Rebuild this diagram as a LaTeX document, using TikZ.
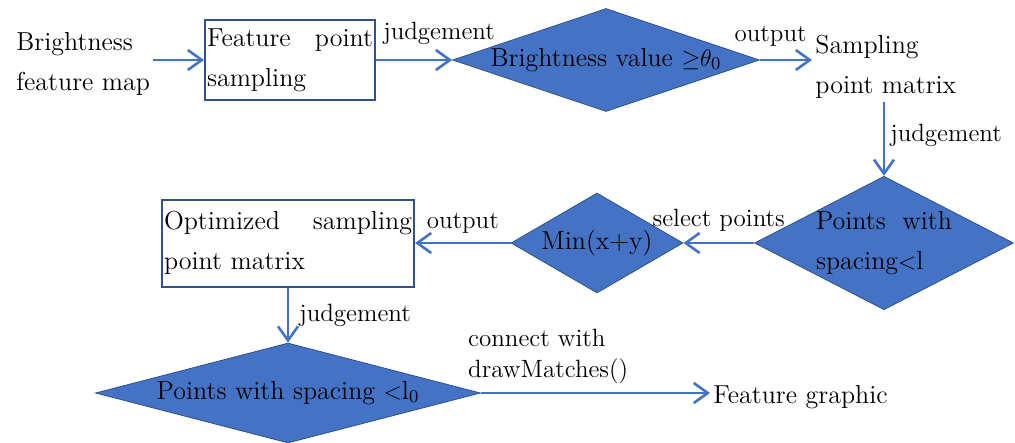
\documentclass[tikz,border=0pt]{standalone}
\usepackage{amssymb}
\usepackage{amsmath}
\usepackage{tikz}
\usetikzlibrary{arrows.meta, positioning, shapes.geometric}

\definecolor{flowBlue}{HTML}{4472C4}
\definecolor{flowEdge}{HTML}{2F528F}
\newcommand{\spread}{\hspace{0pt plus 1filll}} % pushes the words of a line to both edges

\begin{document}
\begin{tikzpicture}[auto, >={Straight Barb[length=7pt, width=10pt]}, font=\fontsize{13}{20}\selectfont]
        % Styles for boxes, decisions and links
        \tikzstyle{block} = [draw=flowEdge, line width=1pt, rectangle, inner sep=1pt, align=left]
        \tikzstyle{decision} = [draw=flowEdge, fill=flowBlue, line width=0.4pt, diamond, inner sep=0pt, align=left]
        \tikzstyle{plain} = [inner sep=1.5pt, align=left]
        \tikzstyle{link} = [draw=flowBlue, line width=1.3pt]
        \tikzstyle{tag} = [inner sep=0pt, font=\fontsize{12.5}{15.5}\selectfont]

        \useasboundingbox (0pt,0pt) rectangle (507.5pt,-221.5pt);

        % Nodes
        \node at (145pt,-30pt) [block, text width=83pt, minimum height=40pt] (pointSampling) {Feature\spread point\\sampling};
        \node [plain, on grid, below left=2pt and 138.5pt of pointSampling, anchor=west] (brightMap) {Brightness\\feature map};
        \node [decision, on grid, right=158pt of pointSampling, minimum width=153.5pt, minimum height=51.5pt, shape aspect=2.98] (brightCheck) {Brightness value ${\geq}\theta_0$};
        \node [plain, on grid, below right=3.5pt and 103pt of brightCheck, anchor=west] (sampleMatrix) {Sampling\\point matrix};
        \node [decision, on grid, below right=91.5pt and 139pt of brightCheck, text width=68pt, minimum width=126pt, minimum height=65pt, shape aspect=1.94] (spacingCheck) {Points\spread with\\spacing$<$l};
        \node [decision, on grid, left=143.5pt of spacingCheck, minimum width=86pt, minimum height=50pt, shape aspect=1.72] (minSum) {Min(x+y)};
        \node [block, on grid, left=154.5pt of minSum, text width=124pt, minimum height=43.5pt] (optMatrix) {Optimized\spread sampling\\point matrix};
        \node [decision, on grid, below=75pt of optMatrix, minimum width=192.5pt, minimum height=50pt, shape aspect=3.85] (finalCheck) {Points with spacing $<$l$_0$};
        \node [plain, on grid, below right=2pt and 211pt of finalCheck, anchor=west] (featureGraphic) {Feature graphic};

        % Links between nodes
        \draw [link, ->] (brightMap.east |- pointSampling.west) -- (pointSampling.west);
        \draw [link, ->] (pointSampling.east) -- node [tag, pos=0, anchor=south west, xshift=3pt, yshift=7pt] {judgement} (brightCheck.west);
        \draw [link, ->] (brightCheck.east) -- node [tag, pos=1, anchor=south east, xshift=-2pt, yshift=6pt] {output} (sampleMatrix.west |- brightCheck.east);
        \draw [link, ->] (sampleMatrix.south -| spacingCheck.north) -- node [tag, pos=0.45, inner sep=2.5pt] {judgement} (spacingCheck.north);
        \draw [link, ->] (spacingCheck.west) -- node [tag, anchor=south, yshift=5pt] {select points} (minSum.east);
        \draw [link, ->] (minSum.west) -- node [tag, anchor=south, yshift=4pt] {output} (optMatrix.east);
        \draw [link, ->] (optMatrix.south) -- node [tag, inner sep=5pt] {judgement} (optMatrix.south |- finalCheck.north);
        \draw [link, ->] (finalCheck.east) -- node [tag, pos=0, anchor=south west, xshift=-7pt, yshift=4pt, align=left] {connect with\\drawMatches()} (featureGraphic.west |- finalCheck.east);
\end{tikzpicture}
\end{document}
